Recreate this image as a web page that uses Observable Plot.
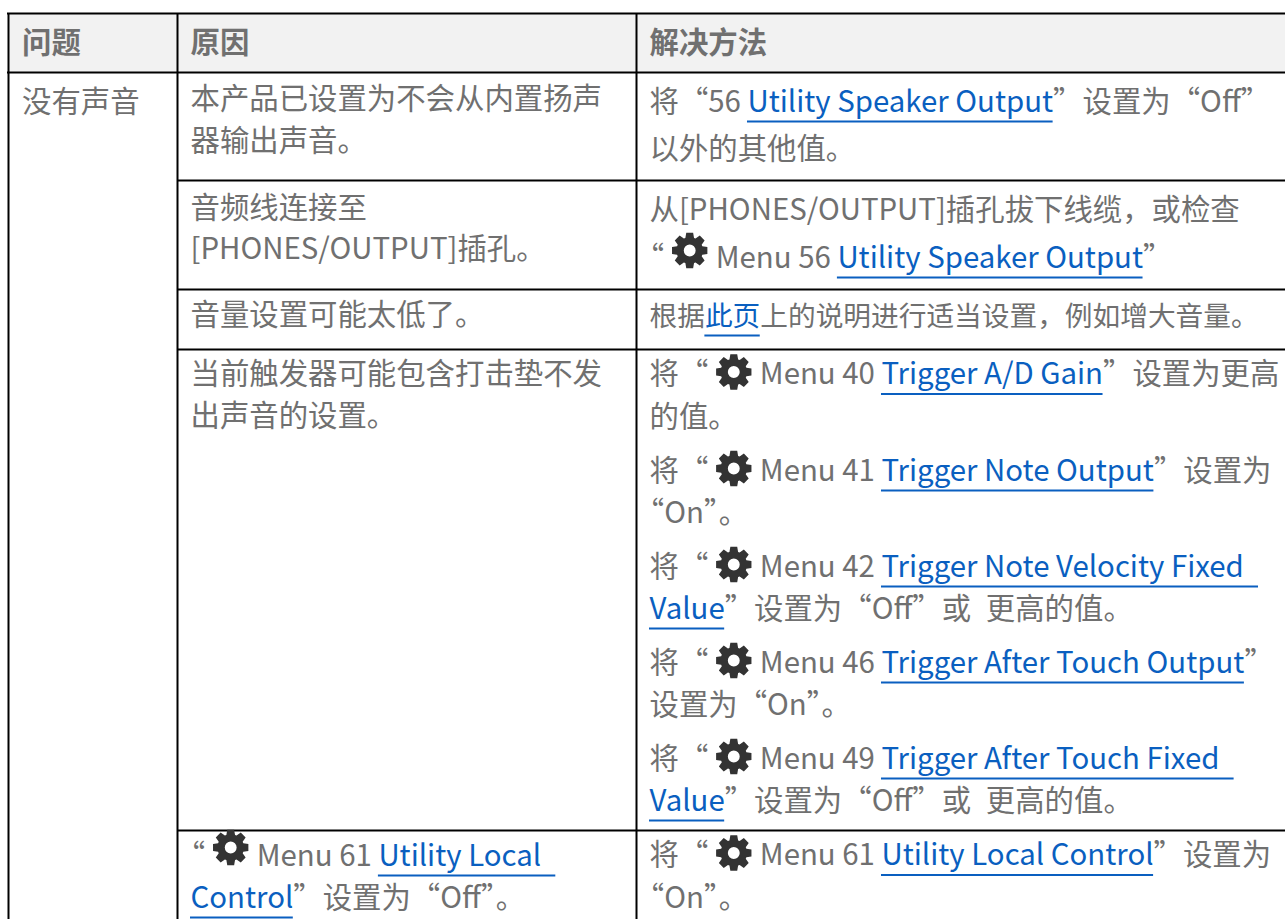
<!DOCTYPE html>
<html lang="zh-CN">
<head>
<meta charset="utf-8">
<script src="https://cdn.jsdelivr.net/npm/d3@7"></script>
<script src="https://cdn.jsdelivr.net/npm/@observablehq/plot@0.6"></script>
<style>html,body{margin:0;padding:0;background:#fff;overflow:hidden}svg{display:block}</style>
</head>
<body lang="zh-CN">
<div id="chart"></div>
<script>
// ---- table content ----
const headers = ["问题", "原因", "解决方法"];
const problems = ["没有声音"];
const causeLines = [
  [["t","本产品已设置为不会从内置扬声"]],
  [["t","器输出声音。"]],
  [["t","音频线连接至"]],
  [["t","[PHONES/OUTPUT]插孔。"]],
  [["t","音量设置可能太低了。"]],
  [["t","当前触发器可能包含打击垫不发"]],
  [["t","出声音的设置。"]],
  [["q","“"],["g"],["t","Menu 61 "],["l","Utility Local\u2002"]],
  [["l","Control"],["t","”设置为“Off”。"]]
];
const solutionLines = [
  [["t","将“56 "],["l","Utility Speaker Output"],["t","”设置为“Off”"]],
  [["t","以外的其他值。"]],
  [["t","从[PHONES/OUTPUT]插孔拔下线缆，或检查"]],
  [["q","“"],["g"],["t","Menu 56 "],["l","Utility Speaker Output"],["t","”"]],
  [["t","根据"],["l","此页"],["t","上的说明进行适当设置，例如增大音量。"]],
  [["t","将“"],["g"],["t","Menu 40 "],["l","Trigger A/D Gain"],["t","”设置为更高"]],
  [["t","的值。"]],
  [["t","将“"],["g"],["t","Menu 41 "],["l","Trigger Note Output"],["t","”设置为"]],
  [["q","“"],["t","On”。"]],
  [["t","将“"],["g"],["t","Menu 42 "],["l","Trigger Note Velocity Fixed\u2002"]],
  [["l","Value"],["t","”设置为“Off”或\u2002更高的值。"]],
  [["t","将“"],["g"],["t","Menu 46 "],["l","Trigger After Touch Output"],["t","”"]],
  [["t","设置为“On”。"]],
  [["t","将“"],["g"],["t","Menu 49 "],["l","Trigger After Touch Fixed\u2002"]],
  [["l","Value"],["t","”设置为“Off”或\u2002更高的值。"]],
  [["t","将“"],["g"],["t","Menu 61 "],["l","Utility Local Control"],["t","”设置为"]],
  [["q","“"],["t","On”。"]]
];
// ---- table geometry ----
const columnEdges = [8, 177, 636];
const headerRows = [13, 72];
const causeRows = [180, 289, 349, 830];
const textLefts = [21.5, 190, 649];
const headerBaseline = 52;
const problemBaseline = 111;
const causeBaselines = [108, 150, 217, 258.5, 324.5, 383, 425, 865, 907];
const solutionBaselines = [111, 158.5, 219, 267, 325, 383.5, 426, 480, 522, 576, 618, 672, 714, 768, 810, 864.5, 907];
const causeGearRise = [0,0,0,0,0,0,0,18,0];
const solutionGearRise = [0,0,0,17,0,12,0,12,0,12,0,12,0,12,0,12,0];
const solutionFontSizes = {4: 27.7};

const W = 1285, H = 919, FS = 29.4;
const FONT = '"Noto Sans CJK SC"';
const ctx = document.createElement("canvas").getContext("2d");
const measure = (s, fs) => { ctx.font = `${fs}px ${FONT}`; return ctx.measureText(s).width; };

const plain = [], links = [], underlines = [], gears = [];
function place(lines, baselines, left, rises, sizes = {}) {
  lines.forEach((segs, i) => {
    let cx = left;
    const y = baselines[i], fs = sizes[i] ?? FS;
    for (const [kind, text] of segs) {
      if (kind === "g") {
        gears.push({x: cx + 25.5, y: y - rises[i]});
        cx += 51.5;
      } else if (kind === "q") {
        // opening quote set in half a cell at the start of a line
        plain.push({x: cx - fs / 2, y, text, fs});
        cx += fs / 2;
      } else {
        const w = measure(text, fs);
        if (kind === "l") {
          links.push({x: cx, y, text, fs});
          underlines.push({x1: cx, x2: cx + w, y: y + 10});
        } else plain.push({x: cx, y, text, fs});
        cx += w;
      }
    }
  });
}
place(causeLines, causeBaselines, textLefts[1], causeGearRise);
place(solutionLines, solutionBaselines, textLefts[2], solutionGearRise, solutionFontSizes);
plain.push({x: textLefts[0], y: problemBaseline, text: problems[0], fs: FS});
const heads = headers.map((text, i) => ({x: textLefts[i], y: headerBaseline, text, fs: FS}));

const gear = {
  draw(c, size) {
    const R = Math.sqrt(size / Math.PI), n = 8, root = 0.74, deg = Math.PI / 180;
    for (let i = 0; i < n; i++) {
      const a = i * 2 * Math.PI / n - Math.PI / 2;
      const pts = [[root, a - 19 * deg], [1, a - 11 * deg], [1, a + 11 * deg], [root, a + 19 * deg]];
      pts.forEach(([r, t], j) => {
        const px = R * r * Math.cos(t), py = R * r * Math.sin(t);
        (i === 0 && j === 0) ? c.moveTo(px, py) : c.lineTo(px, py);
      });
    }
    c.closePath();
    const h = R * 0.33;
    c.moveTo(h, 0);
    c.arc(0, 0, h, 0, 2 * Math.PI, true);
    c.closePath();
  }
};

const textOpts = {x: "x", y: "y", text: "text", textAnchor: "start", lineAnchor: "bottom", fontFamily: FONT};
const plot = Plot.plot({
  width: W, height: H,
  marginTop: 0, marginRight: 0, marginBottom: 0, marginLeft: 0,
  x: {domain: [0, W], range: [0, W], axis: null},
  y: {domain: [0, H], range: [0, H], axis: null},
  style: {background: "#fff", fontFamily: FONT},
  marks: [
    Plot.rect([{}], {x1: columnEdges[0], x2: W, y1: headerRows[0], y2: headerRows[1], fill: "#f2f2f2"}),
    Plot.ruleY(headerRows, {x1: columnEdges[0] - 1, x2: W, y: d => d, stroke: "#000", strokeWidth: 2}),
    Plot.ruleY(causeRows, {x1: columnEdges[1], x2: W, y: d => d, stroke: "#000", strokeWidth: 2}),
    Plot.ruleX(columnEdges, {x: d => d, y1: headerRows[0], y2: H, stroke: "#000", strokeWidth: 2}),
    Plot.text(heads, {...textOpts, fontSize: FS, fill: "#707070", fontWeight: 700}),
    ...d3.groups(plain, d => d.fs).map(([fs, rows]) => Plot.text(rows, {...textOpts, fontSize: fs, fill: "#707070"})),
    ...d3.groups(links, d => d.fs).map(([fs, rows]) => Plot.text(rows, {...textOpts, fontSize: fs, fill: "#0a5fc0"})),
    Plot.ruleY(underlines, {x1: "x1", x2: "x2", y: "y", stroke: "#0a5fc0", strokeWidth: 2}),
    Plot.dot(gears, {x: "x", y: "y", r: 18, symbol: gear, fill: "#333", stroke: "none"})
  ]
});
document.getElementById("chart").appendChild(plot);
</script>
</body>
</html>
